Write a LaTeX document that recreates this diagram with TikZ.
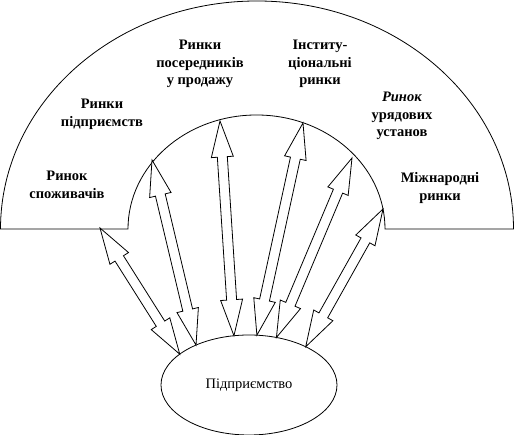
\documentclass[tikz,border=0pt]{standalone}
\usepackage{fontspec}
\setmainfont{Liberation Serif}
\usetikzlibrary{calc,shapes.geometric}
\tikzset{
  lbl/.style={align=center, font=\fontsize{14.5}{17.5}\selectfont\bfseries, inner sep=0pt},
  outline/.style={draw=black, line width=0.8pt},
  arr/.style={draw=black, fill=white, line width=0.8pt, line join=miter}
}
\newcommand\dblarrow[2]{%
  \draw[arr] (#1)
 -- ($(#1)!36pt!(#2)!11pt!90:(#2)$)
 -- ($(#1)!36pt!(#2)!5pt!90:(#2)$)
 -- ($(#2)!36pt!(#1)!5pt!-90:(#1)$)
 -- ($(#2)!36pt!(#1)!11pt!-90:(#1)$)
 -- (#2)
 -- ($(#2)!36pt!(#1)!11pt!90:(#1)$)
 -- ($(#2)!36pt!(#1)!5pt!90:(#1)$)
 -- ($(#1)!36pt!(#2)!5pt!-90:(#2)$)
 -- ($(#1)!36pt!(#2)!11pt!-90:(#2)$)
 -- cycle;}
\begin{document}
\begin{tikzpicture}[x=1pt,y=1pt]
\fill[white] (0,0) rectangle (515,435);
\useasboundingbox (0,0) rectangle (515,435);
% half-ring
\draw[outline] (0.5,206) -- (128,206)
  arc[start angle=180, end angle=0, x radius=128.5pt, y radius=114pt]
  -- (513.5,206)
  arc[start angle=0, end angle=180, x radius=256.5pt, y radius=228pt] -- cycle;
% labels
\node[lbl] (n1) at (67,250) {Ринок\\споживачів};
\node[lbl] (n2) at (102,320.5) {Ринки\\підприємств};
\node[lbl] (n3) at (200,371) {Ринки\\посередників\\у продажу};
\node[lbl] (n4) at (320,371) {Інститу-\\ціональні\\ринки};
\node[lbl] (n5) at (402,319) {\textit{Ринок}\\урядових\\установ};
\node[lbl] (n6) at (440,247) {Міжнародні\\ринки};
% enterprise
\node[ellipse, draw, line width=0.8pt, minimum width=176pt, minimum height=100pt,
      inner sep=0pt, outer sep=0pt, font=\fontsize{14.5}{17}\selectfont] (E) at (249,50) {Підприємство};
% arrow tips
\coordinate (t1) at (100,207);
\coordinate (t2) at (152,275);
\coordinate (t3) at (220,314);
\coordinate (t4) at (303,312);
\coordinate (t5) at (352,277);
\coordinate (t6) at (383,226);
\dblarrow{E.156}{t1}
\dblarrow{E.143}{t2}
\dblarrow{E.107}{t3}
\dblarrow{E.81}{t4}
\dblarrow{E.60}{t5}
\dblarrow{E.34}{t6}
\end{tikzpicture}
\end{document}
